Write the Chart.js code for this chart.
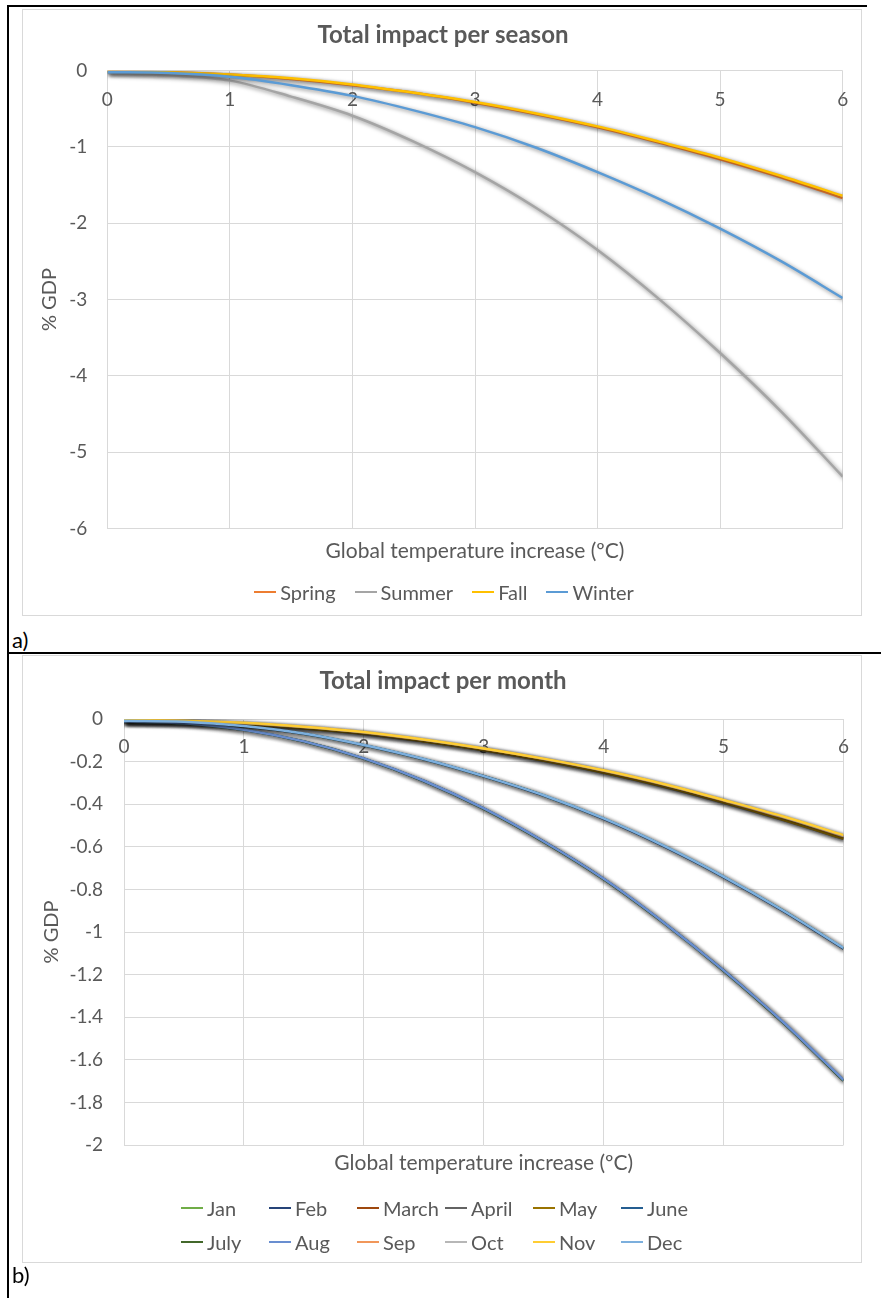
<!DOCTYPE html>
<html>
<head>
<meta charset="utf-8">
<script src="https://cdn.jsdelivr.net/npm/chart.js@4.4.1/dist/chart.umd.min.js"></script>
<style>
  body { margin: 0; background: #fff; font-family: Lato, sans-serif; }
  #page { position: relative; width: 881px; height: 1298px; overflow: hidden; }
  .rule { position: absolute; background: #000; }
  .frame { position: absolute; left: 22px; width: 838px; border: 1px solid #d9d9d9; }
  .frame canvas { display: block; }
  .legend { position: absolute; color: #595959; font-size: 20px; line-height: 24px; }
  .item { display: flex; align-items: center; white-space: nowrap; }
  .swatch { width: 22px; height: 2px; margin-right: 4px; flex: none; }
  .tag { position: absolute; left: 12px; font-size: 22px; line-height: 26px; color: #000; }
</style>
</head>
<body>
<div id="page">
  <div class="rule" style="left:7px;top:5px;width:2px;height:1293px"></div>
  <div class="rule" style="left:7px;top:5px;width:860px;height:2px"></div>
  <div class="rule" style="left:7px;top:652px;width:874px;height:2px"></div>

  <div class="frame" style="top:9px;height:605px"><canvas id="seasonChart" width="838" height="605"></canvas></div>
  <div id="seasonLegend" class="legend" style="left:24px;top:580px;width:840px;display:flex;justify-content:center;gap:19px"></div>
  <div class="tag" style="top:627px">a)</div>

  <div class="frame" style="top:655px;height:606px"><canvas id="monthChart" width="838" height="606"></canvas></div>
  <div id="monthLegend" class="legend" style="left:181px;top:1191px;display:grid;grid-template-columns:repeat(6,88px);grid-auto-rows:34px;align-items:center"></div>
  <div class="tag" style="top:1262px">b)</div>
</div>

<script>
// temperature increase (x), ºC
const temps = [0, 0.5, 1, 1.5, 2, 2.5, 3, 3.5, 4, 4.5, 5, 5.5, 6];

// --- a) per season, % GDP --- //
const seasonNames = ['Spring', 'Summer', 'Fall', 'Winter'];
const seasonColors = ['#ED7D31', '#A5A5A5', '#FFC000', '#5B9BD5'];
const spring = [-0.01, -0.02, -0.05, -0.11, -0.19, -0.29, -0.42, -0.57, -0.74, -0.94, -1.16, -1.40, -1.67];
const summer = [-0.03, -0.06, -0.13, -0.34, -0.59, -0.93, -1.33, -1.80, -2.35, -2.99, -3.70, -4.47, -5.32];
const fall = [-0.01, -0.02, -0.05, -0.10, -0.18, -0.29, -0.41, -0.56, -0.73, -0.93, -1.14, -1.38, -1.64];
const winter = [-0.02, -0.03, -0.08, -0.19, -0.33, -0.52, -0.74, -1.01, -1.33, -1.68, -2.07, -2.50, -2.98];

// --- b) per month, % GDP --- //
const monthNames = ['Jan', 'Feb', 'March', 'April', 'May', 'June', 'July', 'Aug', 'Sep', 'Oct', 'Nov', 'Dec'];
const monthColors = ['#70AD47', '#264478', '#9E480E', '#636363', '#997300', '#255E91',
  '#43682B', '#698ED0', '#F1975A', '#B7B7B7', '#FFCD33', '#7CAFDD'];
const jan = [-0.009, -0.013, -0.034, -0.069, -0.123, -0.189, -0.269, -0.359, -0.468, -0.596, -0.741, -0.901, -1.077];
const feb = [-0.009, -0.014, -0.034, -0.069, -0.123, -0.189, -0.269, -0.360, -0.469, -0.597, -0.742, -0.902, -1.078];
const march = [-0.012, -0.014, -0.024, -0.042, -0.068, -0.103, -0.145, -0.194, -0.250, -0.315, -0.390, -0.472, -0.560];
const april = [-0.015, -0.017, -0.027, -0.045, -0.070, -0.105, -0.147, -0.196, -0.252, -0.318, -0.393, -0.475, -0.563];
const may = [-0.013, -0.015, -0.025, -0.043, -0.068, -0.104, -0.146, -0.195, -0.251, -0.316, -0.391, -0.473, -0.561];
const june = [-0.012, -0.020, -0.051, -0.106, -0.186, -0.291, -0.421, -0.576, -0.751, -0.956, -1.181, -1.427, -1.697];
const july = [-0.013, -0.021, -0.051, -0.106, -0.186, -0.291, -0.422, -0.577, -0.752, -0.957, -1.182, -1.428, -1.698];
const aug = [-0.012, -0.020, -0.050, -0.105, -0.185, -0.290, -0.420, -0.575, -0.750, -0.955, -1.180, -1.425, -1.695];
const sep = [-0.008, -0.010, -0.020, -0.038, -0.063, -0.098, -0.140, -0.188, -0.243, -0.308, -0.383, -0.462, -0.550];
const oct = [-0.007, -0.009, -0.019, -0.037, -0.062, -0.097, -0.139, -0.187, -0.242, -0.306, -0.381, -0.460, -0.548];
const nov = [-0.005, -0.008, -0.018, -0.036, -0.061, -0.096, -0.138, -0.186, -0.241, -0.305, -0.380, -0.458, -0.545];
const dec = [-0.008, -0.013, -0.033, -0.068, -0.122, -0.188, -0.268, -0.358, -0.467, -0.595, -0.740, -0.900, -1.075];

const grey = '#595959';
const gridGrey = '#d9d9d9';
Chart.defaults.font.family = 'Lato, sans-serif';

// soft dark shadow under each line, like the Excel style
const lineShadow = {
  id: 'lineShadow',
  beforeDatasetDraw(chart) {
    const ctx = chart.ctx;
    ctx.save();
    ctx.shadowColor = 'rgba(0,0,0,0.5)';
    ctx.shadowBlur = 4;
    ctx.shadowOffsetX = 1.5;
    ctx.shadowOffsetY = 1.5;
  },
  afterDatasetDraw(chart) {
    chart.ctx.restore();
  }
};

function makeChart(id, o) {
  const n = o.names.length;
  return new Chart(document.getElementById(id), {
    type: 'line',
    data: {
      datasets: o.names.map((name, i) => ({
        label: name,
        data: temps.map((t, j) => ({ x: t, y: o.series[i][j] })),
        borderColor: o.colors[i],
        backgroundColor: o.colors[i],
        borderWidth: 2.5,
        pointRadius: 0,
        cubicInterpolationMode: 'monotone',
        order: n - i, // later series on top
        xAxisID: 'x',
        yAxisID: 'y'
      }))
    },
    options: {
      responsive: false,
      animation: false,
      layout: { padding: { left: o.padLeft, top: 0, right: o.padRight, bottom: o.padBottom } },
      plugins: {
        legend: { display: false },
        tooltip: { enabled: false },
        title: {
          display: true,
          text: o.title,
          color: grey,
          font: { size: 24, weight: 'bold' },
          padding: { top: 10.6, bottom: o.titleGap }
        }
      },
      scales: {
        // axis crosses at y = 0, labels sit just under the top line
        x: {
          axis: 'x',
          type: 'linear',
          position: { y: 0 },
          min: 0,
          max: 6,
          ticks: { stepSize: 1, color: grey, font: { size: 19 }, padding: 0 },
          grid: { color: gridGrey, drawTicks: true, tickLength: o.xTickGap, tickColor: 'rgba(0,0,0,0)' },
          border: { display: false }
        },
        // only carries the axis title at the bottom
        x2: {
          axis: 'x',
          type: 'linear',
          position: 'bottom',
          min: 0,
          max: 6,
          ticks: { display: false },
          grid: { display: false, drawTicks: false },
          border: { display: false },
          title: {
            display: true,
            text: 'Global temperature increase (ºC)',
            color: grey,
            font: { size: 21 },
            padding: { top: o.xTitlePad, bottom: 0 }
          }
        },
        y: {
          type: 'linear',
          min: o.yMin,
          max: 0,
          ticks: {
            stepSize: o.yStep,
            color: grey,
            font: { size: 19 },
            padding: o.yTickPad,
            format: { minimumFractionDigits: 0, maximumFractionDigits: 1 }
          },
          grid: { color: gridGrey, drawTicks: false },
          border: { display: false },
          title: {
            display: true,
            text: '% GDP',
            color: grey,
            font: { size: 20 },
            padding: { top: o.yTitlePad, bottom: 0 }
          },
          afterFit: s => { s.width = o.yWidth; }
        }
      }
    },
    plugins: [lineShadow]
  });
}

function buildLegend(chart, elId) {
  const box = document.getElementById(elId);
  chart.data.datasets.forEach(ds => {
    const item = document.createElement('div');
    item.className = 'item';
    const sw = document.createElement('span');
    sw.className = 'swatch';
    sw.style.background = ds.borderColor;
    const txt = document.createElement('span');
    txt.textContent = ds.label;
    item.appendChild(sw);
    item.appendChild(txt);
    box.appendChild(item);
  });
}

const seasonChart = makeChart('seasonChart', {
  title: 'Total impact per season',
  names: seasonNames,
  colors: seasonColors,
  series: [spring, summer, fall, winter],
  yMin: -6, yStep: 1,
  titleGap: 21.3, xTickGap: 17.9, xTitlePad: 10.6,
  padLeft: 20.3, padBottom: 50.7, padRight: 18.3,
  yWidth: 64, yTickPad: 20, yTitlePad: -5.3
});

const monthChart = makeChart('monthChart', {
  title: 'Total impact per month',
  names: monthNames,
  colors: monthColors,
  series: [jan, feb, march, april, may, june, july, aug, sep, oct, nov, dec],
  yMin: -2, yStep: 0.2,
  titleGap: 23.6, xTickGap: 16.3, xTitlePad: 5.4,
  padLeft: 19.5, padBottom: 86.4, padRight: 17.5,
  yWidth: 81.5, yTickPad: 21, yTitlePad: -2.5
});

buildLegend(seasonChart, 'seasonLegend');
buildLegend(monthChart, 'monthLegend');
</script>
</body>
</html>
